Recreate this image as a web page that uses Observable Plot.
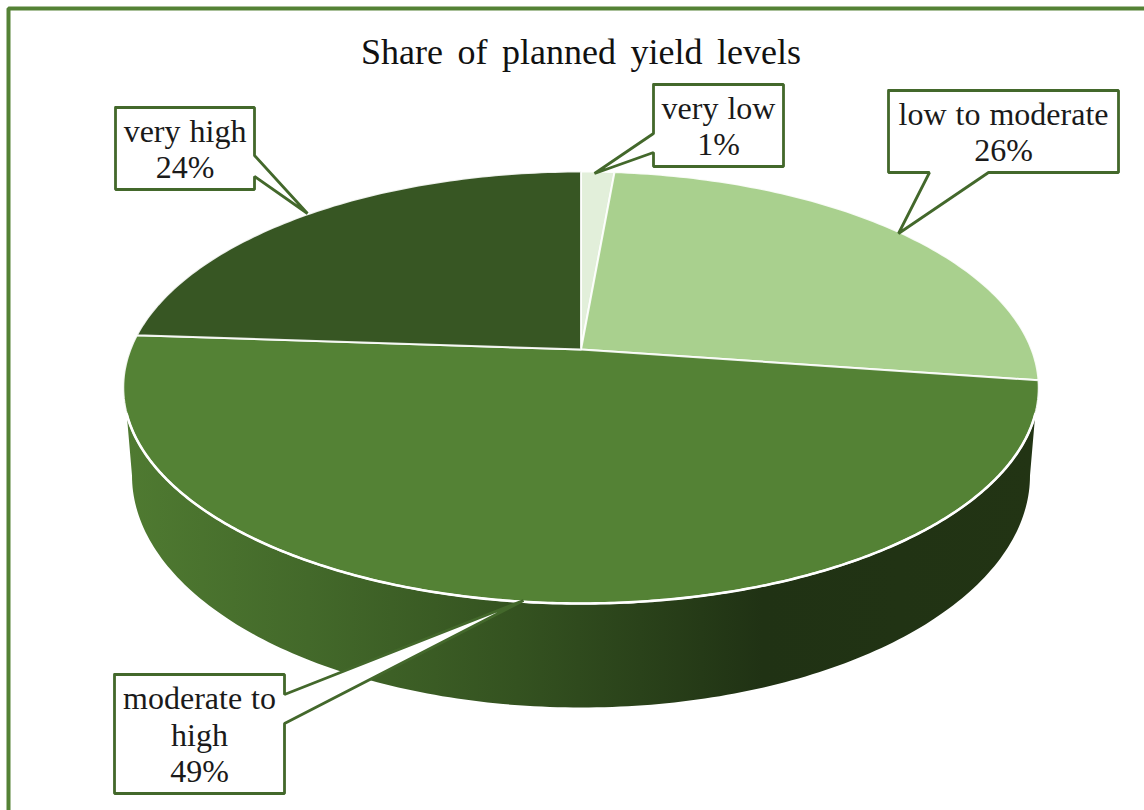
<!DOCTYPE html>
<html>
<head>
<meta charset="utf-8">
<script src="https://cdn.jsdelivr.net/npm/d3@7"></script>
<script src="https://cdn.jsdelivr.net/npm/@observablehq/plot@0.6"></script>
<style>html,body{margin:0;padding:0;background:#fff}svg{display:block}</style>
</head>
<body>
<div id="chart"></div>
<script>
// ---- data
const categories = ["very low", "low to moderate", "moderate to high", "very high"];
const shares = [1.4, 26, 49, 24];
const shareLabels = ["1%", "26%", "49%", "24%"];
const calloutLines = ["very low", "low to moderate", "moderate to\nhigh", "very high"];
const titleText = "Share of planned yield levels";
const sliceColors = ["#e2efda", "#a9d08e", "#548235", "#375623"];

// ---- layout of the tilted pie
const pie = {cx: 580.5, cy: 349, a: 209.3, b: 450.6, k: 0.176};
const floor = {cx: 580.5, cy: 475, rx: 449, ry: 232};
const FRAME = "#548235", CALLOUT = "#43682b";
const SERIF = "'Liberation Serif','Times New Roman',serif";

// Point on the pie rim (t = fraction of a full turn, clockwise from top)
function rim(t) {
  const th = 2 * Math.PI * t, X = Math.sin(th), Y = Math.cos(th), d = 1 + pie.k * Y;
  return {x: pie.cx + pie.b * X / d, y: pie.cy - pie.a * Y / d};
}
const total = d3.sum(shares);
let acc = 0;
const slicePoints = categories.flatMap((category, i) => {
  const t0 = acc / total; acc += shares[i]; const t1 = acc / total;
  const n = Math.max(4, Math.ceil((t1 - t0) * 360));
  const arc = d3.range(n + 1).map(j => ({category, ...rim(t0 + (t1 - t0) * j / n)}));
  const apex = {category, x: pie.cx, y: pie.cy};
  return [apex, ...arc, apex];
});
// Front rim from the left shoulder to the right shoulder
const rimTurn = d3.range(720).map(j => rim(j / 720));
const yShoulder = 413;
const frontRim = rimTurn.filter(p => p.y >= yShoulder).sort((p, q) => q.x - p.x);
// Side wall: front rim, then the lower half of the floor ellipse
const floorArc = d3.range(0, 181).map(j => {
  const th = Math.PI * j / 180;
  return {x: floor.cx + floor.rx * Math.cos(th), y: floor.cy + floor.ry * Math.sin(th)};
});
const wall = [frontRim[0], ...floorArc, frontRim[frontRim.length - 1], ...frontRim.slice().reverse()];

// ---- callouts: box outline with pointer
const callouts = [
  {i: 0, l: 653, t: 84, r: 783, b: 166, pointer: [[653, 133], [594, 173], [653, 152]], side: "left"},
  {i: 1, l: 888, t: 90, r: 1118, b: 172, pointer: [[988, 172], [898, 233], [929, 172]], side: "bottom"},
  {i: 2, l: 114, t: 674, r: 284, b: 793, pointer: [[284, 723], [523, 600], [284, 694]], side: "right"},
  {i: 3, l: 115, t: 107, r: 254, b: 189, pointer: [[254, 176], [307, 213], [254, 155]], side: "right"}
];
function outline(c) {
  const P = c.pointer.map(([x, y]) => ({x, y, key: c.i}));
  const k = {key: c.i};
  const corner = (x, y) => ({x, y, ...k});
  if (c.side === "left") return [corner(c.l, c.t), corner(c.r, c.t), corner(c.r, c.b), corner(c.l, c.b), P[2], P[1], P[0], corner(c.l, c.t)];
  if (c.side === "bottom") return [corner(c.l, c.t), corner(c.r, c.t), corner(c.r, c.b), P[0], P[1], P[2], corner(c.l, c.b), corner(c.l, c.t)];
  return [corner(c.l, c.t), corner(c.r, c.t), P[2], P[1], P[0], corner(c.r, c.b), corner(c.l, c.b), corner(c.l, c.t)];
}
const calloutPts = callouts.flatMap(outline);
const calloutText = callouts.map(c => ({
  x: (c.l + c.r) / 2, y: (c.t + c.b) / 2,
  text: calloutLines[c.i] + "\n" + shareLabels[c.i]
}));
const framePts = [{x: 8, y: 815}, {x: 8, y: 8}, {x: 1150, y: 8}];
const wordGap = gap => (index, scales, values, dims, ctx, next) => {
  const g = next(index, scales, values, dims, ctx);
  g.style.wordSpacing = gap;
  return g;
};

const chart = Plot.plot({
  width: 1144, height: 810,
  margin: 0,
  x: {domain: [0, 1144], range: [0, 1144], axis: null},
  y: {domain: [0, 810], range: [0, 810], axis: null},
  color: {domain: categories, range: sliceColors},
  style: {background: "#fff", overflow: "hidden"},
  marks: [
    () => {
      const ns = "http://www.w3.org/2000/svg";
      const defs = document.createElementNS(ns, "defs");
      const g = document.createElementNS(ns, "linearGradient");
      g.setAttribute("id", "wall");
      [[0, "#4f7a31"], [0.2, "#43692a"], [0.43, "#345220"], [0.7, "#203214"], [1, "#223414"]].forEach(([o, c]) => {
        const s = document.createElementNS(ns, "stop");
        s.setAttribute("offset", o); s.setAttribute("stop-color", c); g.appendChild(s);
      });
      defs.appendChild(g);
      return defs;
    },
    Plot.line(framePts, {x: "x", y: "y", stroke: FRAME, strokeWidth: 4, strokeLinejoin: "miter"}),
    Plot.line(wall, {x: "x", y: "y", fill: "url(#wall)", stroke: "none"}),
    Plot.line(slicePoints, {x: "x", y: "y", z: "category", fill: "category", stroke: "#fff", strokeWidth: 2, strokeOpacity: 0.9, strokeLinejoin: "round"}),
    Plot.line(frontRim, {x: "x", y: "y", stroke: "#fff", strokeWidth: 2.6}),
    Plot.line(calloutPts, {x: "x", y: "y", z: "key", fill: "#fff", stroke: CALLOUT, strokeWidth: 2.8, strokeLinejoin: "miter"}),
    Plot.text(calloutText, {x: "x", y: "y", text: "text", fontFamily: SERIF, fontSize: 32, lineHeight: 1.135, fill: "#1a1a1a", textAnchor: "middle", render: wordGap("1px")}),
    Plot.text([titleText], {x: () => 580.5, y: () => 52, text: d => d, fontFamily: SERIF, fontSize: 36, fill: "#111", textAnchor: "middle", render: wordGap("5.5px")})
  ]
});
document.getElementById("chart").appendChild(chart);
</script>
</body>
</html>
